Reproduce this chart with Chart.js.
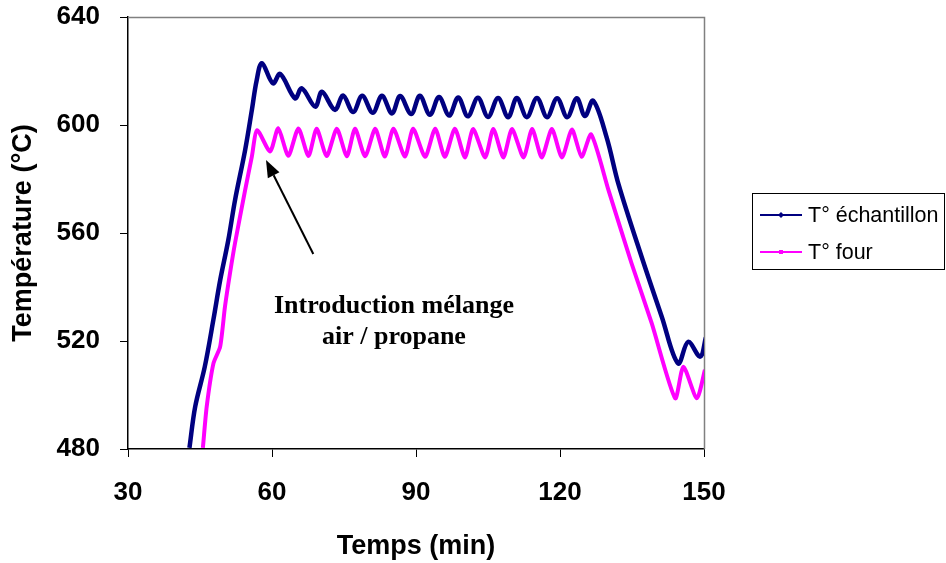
<!DOCTYPE html>
<html><head><meta charset="utf-8">
<script src="https://cdn.jsdelivr.net/npm/chart.js@4.4.1/dist/chart.umd.min.js"></script>
<style>html,body{margin:0;padding:0;background:#fff;}</style>
</head><body>
<canvas id="c" width="946" height="563"></canvas>
<script>
// ---------- DATA ----------
const seriesNames = ['T\u00b0 \u00e9chantillon', 'T\u00b0 four'];
const xTickValues = [30, 60, 90, 120, 150];
const yTickValues = [480, 520, 560, 600, 640];
const xAxisTitle = 'Temps (min)';
const yAxisTitle = 'Temp\u00e9rature (\u00b0C)';

// T° échantillon (time in min, temperature in °C)
const echantillonTime = [42.8, 44.0, 46.0, 47.8, 49.2, 50.9, 52.3, 54.4, 55.8, 56.8, 57.9,
  60.2, 61.7, 64.8, 66.2, 69.0, 70.4, 73.1, 74.8, 76.9, 78.8, 81.0, 82.9, 85.0, 86.7, 89.0, 90.8,
  92.9, 94.8, 96.9, 98.8, 100.8, 102.9, 105.0, 107.1, 109.2, 111.0, 113.1, 115.2, 117.3, 119.4,
  121.5, 123.5, 125.2, 126.9,
  129.7, 132.2, 137.0, 141.2, 144.6, 146.7, 149.2, 150.4];
const echantillonTemp = [480.4, 495.7, 510.5, 528.0, 542.5, 557.4, 572.2, 590.7, 605.5, 616.5, 622.9,
  615.4, 618.9, 609.9, 613.6, 606.8, 612.3, 605.6, 610.9, 604.8, 610.8, 604.5, 610.8, 604.3, 610.7, 604.1, 610.8,
  603.8, 610.4, 603.5, 610.2, 603.2, 610.1, 603.0, 610.0, 602.9, 610.0, 602.9, 610.0, 602.9, 609.9,
  602.9, 609.9, 603.3, 609.0,
  595.5, 578.0, 551.2, 529.0, 511.7, 519.7, 514.2, 521.3];

// T° four
const fourTime = [45.6, 46.4, 47.8, 49.2, 50.2, 51.25, 52.3, 54.4, 55.8, 56.9,
  59.6, 61.3, 63.4, 65.5, 67.6, 69.3, 71.4, 73.5, 75.6, 77.3, 79.4, 81.5, 83.5, 85.3, 87.7, 89.4,
  91.9, 94.0, 96.0, 98.1, 100.2, 101.9, 104.4, 106.1, 108.2, 110.0, 112.4, 114.2, 116.2, 118.3,
  120.4, 122.5, 124.5, 126.5,
  130.1, 134.9, 139.1, 144.0, 145.7, 148.5, 150.2];
const fourTemp = [480.4, 495.7, 511.7, 517.9, 532.7, 545.1, 556.3, 575.9, 588.3, 598.1,
  590.2, 598.8, 588.6, 598.7, 588.5, 598.6, 588.5, 598.6, 588.4, 598.6, 588.4, 598.6, 588.3, 598.6, 588.3, 598.6,
  588.2, 598.6, 588.2, 598.6, 588.0, 598.5, 588.0, 598.5, 588.0, 598.5, 588.0, 598.5, 588.0, 598.5,
  588.0, 598.3, 588.2, 596.5,
  575.9, 548.8, 526.6, 498.8, 510.5, 498.8, 509.3];

// annotation (data coordinates)
const annotationText = ['Introduction m\u00e9lange', 'air / propane'];
const annotationAnchor = {x: 85.4, y: 530.3};
const arrowTail = {x: 68.6, y: 552.2};
const arrowTip = {x: 58.75, y: 587.0};

// ---------- STYLE ----------
const seriesColors = ['#000080', '#ff00ff'];
const sansFamily = "'Liberation Sans', Arial, sans-serif";
const serifFamily = "'Liberation Serif', 'Times New Roman', serif";

const toPoints = (xs, ys) => xs.map((x, i) => ({x: x, y: ys[i]}));

const frameAndNotes = {
  id: 'frameAndNotes',
  beforeDatasetsDraw(chart) {
    const {ctx, chartArea: a} = chart;
    ctx.save();
    ctx.strokeStyle = '#808080';
    ctx.lineWidth = 1.5;
    ctx.beginPath();
    ctx.moveTo(a.left, a.top + 0.5);
    ctx.lineTo(a.right + 0.5, a.top + 0.5);
    ctx.lineTo(a.right + 0.5, a.bottom);
    ctx.stroke();
    ctx.restore();
  },
  afterDatasetsDraw(chart) {
    const {ctx, scales: {x, y}} = chart;
    ctx.save();
    const x1 = x.getPixelForValue(arrowTail.x), y1 = y.getPixelForValue(arrowTail.y);
    const x2 = x.getPixelForValue(arrowTip.x), y2 = y.getPixelForValue(arrowTip.y);
    const ang = Math.atan2(y2 - y1, x2 - x1);
    const headLen = 17, headHalf = 6.5;
    const bx = x2 - headLen * Math.cos(ang), by = y2 - headLen * Math.sin(ang);
    ctx.strokeStyle = '#000';
    ctx.lineWidth = 2;
    ctx.beginPath();
    ctx.moveTo(x1, y1);
    ctx.lineTo(bx, by);
    ctx.stroke();
    ctx.fillStyle = '#000';
    ctx.beginPath();
    ctx.moveTo(x2, y2);
    ctx.lineTo(bx + headHalf * Math.sin(ang), by - headHalf * Math.cos(ang));
    ctx.lineTo(bx - headHalf * Math.sin(ang), by + headHalf * Math.cos(ang));
    ctx.closePath();
    ctx.fill();
    ctx.font = 'bold 26px ' + serifFamily;
    ctx.textAlign = 'center';
    ctx.textBaseline = 'alphabetic';
    const tx = x.getPixelForValue(annotationAnchor.x);
    const ty = y.getPixelForValue(annotationAnchor.y);
    annotationText.forEach((line, i) => ctx.fillText(line, tx, ty + i * 30.5));
    ctx.restore();
  },
  afterDraw(chart) {
    const ctx = chart.ctx;
    const box = {left: 752.5, top: 193.5, width: 192, height: 76};
    ctx.save();
    ctx.strokeStyle = '#000';
    ctx.lineWidth = 1;
    ctx.strokeRect(box.left, box.top, box.width, box.height);
    ctx.font = '21.5px ' + sansFamily;
    ctx.textBaseline = 'middle';
    ctx.textAlign = 'left';
    chart.data.datasets.forEach((ds, i) => {
      const cy = box.top + 21.5 + i * 37;
      ctx.strokeStyle = ds.borderColor;
      ctx.lineWidth = 2;
      ctx.beginPath();
      ctx.moveTo(box.left + 7.5, cy);
      ctx.lineTo(box.left + 49.5, cy);
      ctx.stroke();
      ctx.fillStyle = ds.borderColor;
      const mx = box.left + 28.5;
      ctx.beginPath();
      if (i === 0) {
        ctx.moveTo(mx, cy - 3); ctx.lineTo(mx + 3, cy); ctx.lineTo(mx, cy + 3); ctx.lineTo(mx - 3, cy);
      } else {
        ctx.rect(mx - 2, cy - 2, 4, 4);
      }
      ctx.closePath();
      ctx.fill();
      ctx.fillStyle = '#000';
      ctx.fillText(ds.label, box.left + 55.5, cy + 1);
    });
    ctx.restore();
  }
};

new Chart(document.getElementById('c'), {
  type: 'line',
  data: {
    datasets: [
      {label: seriesNames[0], data: toPoints(echantillonTime, echantillonTemp), borderColor: seriesColors[0],
       backgroundColor: seriesColors[0], borderWidth: 4.5, pointRadius: 0, tension: 0.35, fill: false},
      {label: seriesNames[1], data: toPoints(fourTime, fourTemp), borderColor: seriesColors[1],
       backgroundColor: seriesColors[1], borderWidth: 4, pointRadius: 0, tension: 0.22, fill: false}
    ]
  },
  options: {
    responsive: false,
    animation: false,
    devicePixelRatio: 1,
    layout: {padding: {top: 17, right: 242, bottom: 0, left: 0}},
    plugins: {legend: {display: false}, tooltip: {enabled: false}},
    scales: {
      x: {
        type: 'linear', min: 30, max: 150,
        afterBuildTicks: s => { s.ticks = xTickValues.map(v => ({value: v})); },
        afterFit: s => { s.height = 114; s.paddingLeft = 0; s.paddingRight = 0; },
        grid: {display: true, drawOnChartArea: false, drawTicks: true, tickLength: 8, color: '#000', lineWidth: 1},
        border: {display: true, color: '#000', width: 1.5},
        ticks: {font: {family: sansFamily, size: 26, weight: 'bold'}, color: '#000', padding: 20, maxRotation: 0},
        title: {display: true, text: xAxisTitle, font: {family: sansFamily, size: 27, weight: 'bold'}, color: '#000', padding: {top: 0, bottom: 0}}
      },
      y: {
        type: 'linear', min: 480, max: 640,
        afterBuildTicks: s => { s.ticks = yTickValues.map(v => ({value: v})); },
        afterFit: s => { s.width = 128; s.paddingTop = 0; s.paddingBottom = 0; },
        grid: {display: true, drawOnChartArea: false, drawTicks: true, tickLength: 8, color: '#000', lineWidth: 1},
        border: {display: true, color: '#000', width: 1.5},
        ticks: {font: {family: sansFamily, size: 26, weight: 'bold'}, color: '#000', padding: 20},
        title: {display: true, text: yAxisTitle, font: {family: sansFamily, size: 27, weight: 'bold'}, color: '#000', padding: {top: 7, bottom: 0}}
      }
    }
  },
  plugins: [frameAndNotes]
});
</script>
</body></html>
